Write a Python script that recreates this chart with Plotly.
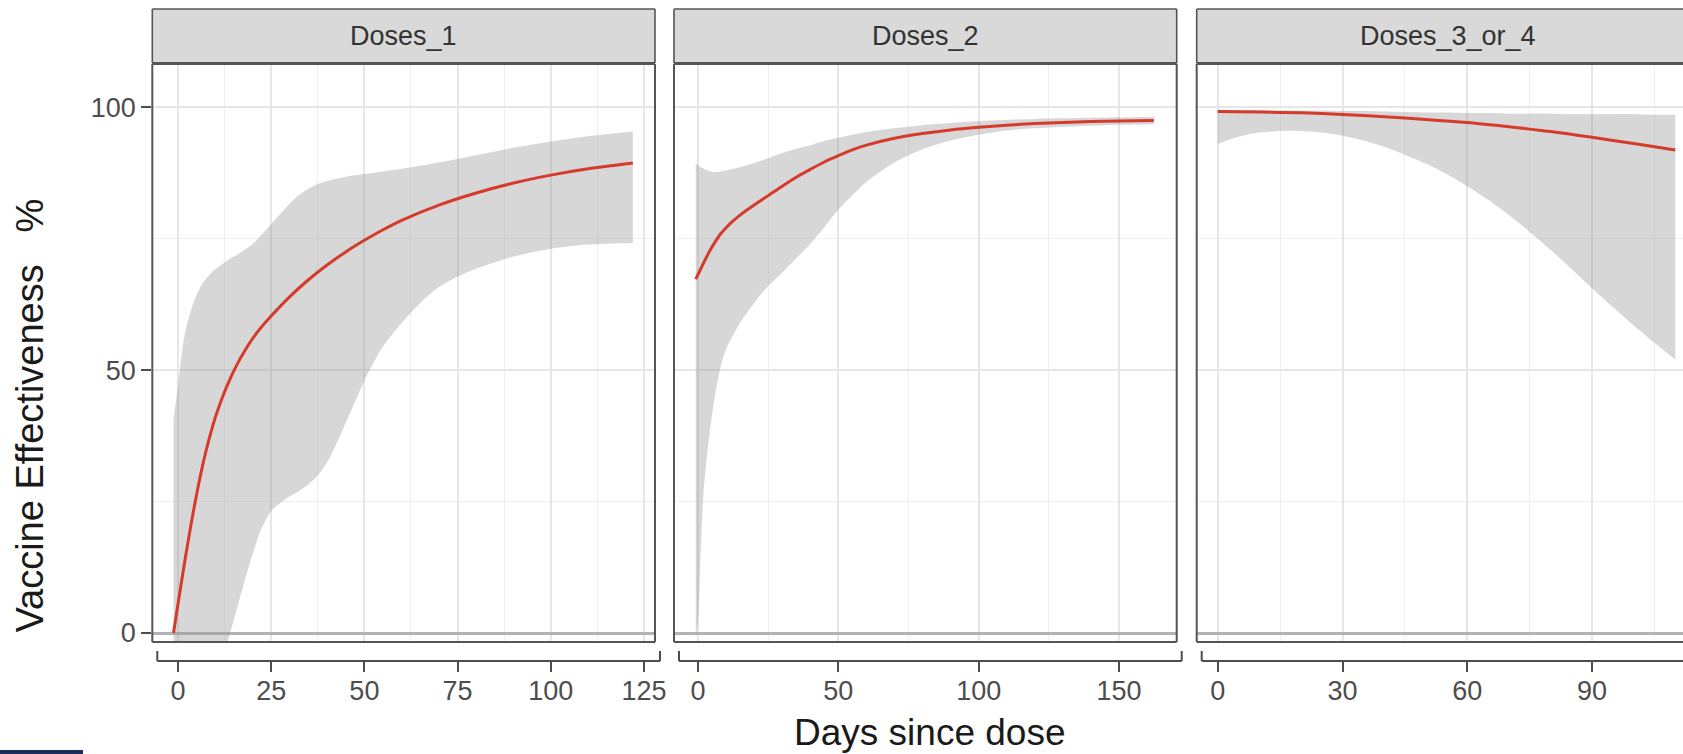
import plotly.graph_objects as go

W, H = 1683, 754

# ---------------- data ----------------
panel_names = ["Doses_1", "Doses_2", "Doses_3_or_4"]

# Doses_1
d1_fit_x = [-1.2, 0, 1, 2, 3, 4, 5, 6, 7, 8, 9, 10, 12, 14, 16, 18, 20, 22.5, 25, 30, 35, 40, 45, 50, 55, 60, 70, 80, 90, 100, 110, 122]
d1_fit = [0, 5.5, 10, 14.4, 18.6, 22.6, 26.4, 29.9, 33.1, 36, 38.6, 41, 45, 48.4, 51.3, 53.8, 56, 58.3, 60.3, 64, 67.2, 70, 72.5, 74.7, 76.7, 78.5, 81.4, 83.7, 85.6, 87.1, 88.3, 89.4]
d1_up_x = [-1.2, 0, 1, 2, 4, 6, 8, 10, 12.5, 15, 17.5, 20, 22.5, 25, 27.5, 30, 32.5, 35, 37.5, 40, 45, 50, 55, 60, 70, 80, 90, 100, 110, 122]
d1_upper = [40.7, 47, 53, 57.5, 62.5, 65.8, 67.8, 69.2, 70.5, 71.6, 72.7, 74, 75.8, 77.8, 79.8, 81.7, 83.3, 84.5, 85.4, 86, 86.8, 87.3, 87.8, 88.3, 89.5, 90.9, 92.3, 93.5, 94.5, 95.4]
d1_lo_x = [-1.2, 0, 2, 4, 6, 8, 10, 12.5, 15, 17.5, 20, 22.5, 25, 27.5, 30, 32.5, 35, 37.5, 40, 42.5, 45, 47.5, 50, 52.5, 55, 60, 65, 70, 75, 80, 90, 100, 110, 122]
d1_lower = [-40, -36, -30, -24, -18, -13, -8.5, -3.5, 2.5, 9, 15, 20, 23.2, 24.8, 26, 27, 28.3, 30, 32.5, 36, 40, 44, 48, 51.5, 54.5, 59, 62.8, 65.8, 67.8, 69.3, 71.6, 73.1, 73.9, 74.2]

# Doses_2
d2_fit_x = [-0.8, 0, 2, 4, 6, 8, 10, 12.5, 15, 20, 25, 30, 35, 40, 45, 50, 55, 60, 70, 80, 90, 100, 110, 120, 130, 140, 150, 162.4]
d2_fit = [67.3, 68.2, 70.4, 72.5, 74.3, 75.9, 77.1, 78.4, 79.5, 81.4, 83.2, 85, 86.7, 88.2, 89.6, 90.8, 91.9, 92.8, 94.1, 95, 95.7, 96.2, 96.6, 96.9, 97.1, 97.3, 97.4, 97.5]
d2_band_x = [-0.8, 0, 1, 2, 4, 6, 8, 10, 15, 20, 25, 30, 35, 40, 45, 50, 60, 70, 80, 90, 100, 110, 120, 130, 140, 150, 162.4]
d2_upper = [89.3, 89, 88.6, 88.3, 87.9, 87.7, 87.8, 88, 88.6, 89.4, 90.3, 91.3, 92.1, 92.8, 93.6, 94.2, 95.3, 96, 96.6, 97, 97.4, 97.6, 97.8, 97.9, 98, 98.1, 98.2]
d2_lower = [-1, 2, 16, 27, 37.5, 45, 50.5, 54, 59, 62.8, 66, 68.6, 71.3, 74, 77.2, 80.5, 85.8, 89.5, 92, 93.7, 94.8, 95.6, 96, 96.3, 96.5, 96.7, 96.8]

# Doses_3_or_4
d3_fit_x = [0, 10, 20, 30, 40, 50, 60, 70, 80, 90, 100, 110]
d3_fit = [99.2, 99.1, 98.95, 98.65, 98.2, 97.7, 97.1, 96.3, 95.4, 94.3, 93.1, 91.9]
d3_band_x = [0, 5, 10, 15, 20, 25, 30, 35, 40, 45, 50, 55, 60, 65, 70, 75, 80, 85, 90, 95, 100, 105, 110]
d3_upper = [99.5, 99.5, 99.5, 99.4, 99.4, 99.4, 99.3, 99.3, 99.2, 99.1, 99.0, 99.0, 98.9, 98.9, 98.8, 98.8, 98.8, 98.7, 98.7, 98.7, 98.7, 98.6, 98.6]
d3_lower = [93, 94.4, 95.2, 95.5, 95.5, 95.2, 94.6, 93.7, 92.5, 91, 89.3, 87.3, 85, 82.4, 79.5, 76.3, 72.9, 69.3, 65.6, 62, 58.5, 55.2, 52]

x_major_ticks = [[0, 25, 50, 75, 100, 125], [0, 50, 100, 150], [0, 30, 60, 90]]
x_minor_step = [12.5, 25, 15]
y_major_ticks = [0, 50, 100]

x_title = "Days since dose"
y_title = "Vaccine Effectiveness\u00a0\u00a0\u00a0%"

# ---------------- layout geometry (pixels) ----------------
# the third panel is cut by the right edge of the picture
panel_px = [(152.3, 655.0), (674.0, 1176.7), (1196.7, 1683.0)]
panel_cut = [False, False, True]
x_ranges = [[-6.89, 127.95], [-8.55, 170.54], [-5.05, 111.85]]
panel_top, panel_bot = 64, 642
strip_top, strip_bot = 9, 63
axis_y = 661
y_range = [-1.71, 108.24]


def px(x):
    return x / W


def py(y):
    return 1 - y / H


font_family = "Liberation Sans, Arial, Helvetica, sans-serif"
RED = "#d63a2b"
RIBBON = "rgba(150,150,150,0.38)"
BORDER = "#555555"

fig = go.Figure()

series = [
    (d1_fit_x, d1_fit, d1_up_x, d1_upper, d1_lo_x, d1_lower),
    (d2_fit_x, d2_fit, d2_band_x, d2_upper, d2_band_x, d2_lower),
    (d3_fit_x, d3_fit, d3_band_x, d3_upper, d3_band_x, d3_lower),
]

for i, (fx, fy, ux, uy, lx, ly) in enumerate(series):
    sfx = "" if i == 0 else str(i + 1)
    fig.add_trace(go.Scatter(
        x=lx, y=ly, mode="lines", line=dict(width=0, color="rgba(0,0,0,0)", shape="spline", smoothing=0.8),
        xaxis="x" + sfx, yaxis="y" + sfx, showlegend=False, hoverinfo="skip"))
    fig.add_trace(go.Scatter(
        x=ux, y=uy, mode="lines", fill="tonexty", fillcolor=RIBBON,
        line=dict(width=0, color="rgba(0,0,0,0)", shape="spline", smoothing=0.8),
        xaxis="x" + sfx, yaxis="y" + sfx, showlegend=False, hoverinfo="skip"))
    fig.add_trace(go.Scatter(
        x=fx, y=fy, mode="lines", line=dict(color=RED, width=3, shape="spline", smoothing=0.8),
        xaxis="x" + sfx, yaxis="y" + sfx, showlegend=False))

layout = dict(
    width=W, height=H, margin=dict(l=0, r=0, t=0, b=0, autoexpand=False),
    paper_bgcolor="white", plot_bgcolor="white",
    font=dict(family=font_family, color="#4d4d4d"),
    showlegend=False,
)

shapes = []
annotations = []


def seg(x0, y0, x1, y1, color, width):
    return dict(type="line", xref="paper", yref="paper",
                x0=px(x0), y0=py(y0), x1=px(x1), y1=py(y1),
                line=dict(color=color, width=width), layer="above")


for i in range(3):
    sfx = "" if i == 0 else str(i + 1)
    x0p, x1p = panel_px[i]
    cut = panel_cut[i]
    layout["xaxis" + sfx] = dict(
        domain=[px(x0p), px(x1p)], range=x_ranges[i], anchor="free", position=py(axis_y),
        tickmode="array", tickvals=x_major_ticks[i],
        ticks="outside", ticklen=10, tickwidth=2, tickcolor="#4d4d4d",
        tickfont=dict(size=27, color="#4d4d4d", family=font_family),
        ticklabelstandoff=-4, automargin=False,
        showline=False, zeroline=False,
        showgrid=True, gridcolor="#e6e6e6", gridwidth=1.6,
        minor=dict(tick0=0, dtick=x_minor_step[i], showgrid=True,
                   gridcolor="#f0f0f0", gridwidth=1, ticks=""),
        fixedrange=True,
    )
    layout["yaxis" + sfx] = dict(
        domain=[py(panel_bot), py(panel_top)], range=y_range,
        anchor="x" + sfx,
        tickmode="array", tickvals=y_major_ticks,
        ticks="outside" if i == 0 else "", ticklen=10, tickwidth=2, tickcolor="#4d4d4d",
        showticklabels=(i == 0),
        tickfont=dict(size=27, color="#4d4d4d", family=font_family),
        ticklabelstandoff=0, automargin=False,
        showline=False,
        zeroline=True, zerolinecolor="#b3b3b3", zerolinewidth=2.5,
        showgrid=True, gridcolor="#e6e6e6", gridwidth=1.6,
        minor=dict(tick0=0, dtick=25, showgrid=True, gridcolor="#f0f0f0", gridwidth=1, ticks=""),
        fixedrange=True,
    )
    # strip background and outline
    shapes.append(dict(type="rect", xref="paper", yref="paper",
                       x0=px(x0p), x1=px(x1p), y0=py(strip_bot), y1=py(strip_top),
                       fillcolor="#d9d9d9", line=dict(width=0), layer="above"))
    shapes.append(seg(x0p, strip_top, x1p, strip_top, BORDER, 1.6))
    shapes.append(seg(x0p, strip_bot, x1p, strip_bot, BORDER, 1.8))
    shapes.append(seg(x0p, strip_top, x0p, strip_bot, BORDER, 1.6))
    if not cut:
        shapes.append(seg(x1p, strip_top, x1p, strip_bot, BORDER, 1.6))
    # panel border
    shapes.append(seg(x0p, panel_top, x1p, panel_top, BORDER, 2))
    shapes.append(seg(x0p, panel_bot, x1p, panel_bot, BORDER, 2))
    shapes.append(seg(x0p, panel_top, x0p, panel_bot, BORDER, 2))
    if not cut:
        shapes.append(seg(x1p, panel_top, x1p, panel_bot, BORDER, 2))
    # bracket-style axis line
    bx0 = x0p + 5
    bx1 = x1p if cut else x1p + 5
    shapes.append(seg(bx0, axis_y, bx1, axis_y, "#4d4d4d", 2))
    shapes.append(seg(bx0, axis_y - 10, bx0, axis_y, "#4d4d4d", 2))
    if not cut:
        shapes.append(seg(bx1, axis_y - 10, bx1, axis_y, "#4d4d4d", 2))
    # strip label (centred on the full, uncut panel width)
    full_right = x0p + (panel_px[0][1] - panel_px[0][0])
    annotations.append(dict(text=panel_names[i], xref="paper", yref="paper",
                            x=px((x0p + full_right) / 2), y=py((strip_top + strip_bot) / 2),
                            xanchor="center", yanchor="middle", showarrow=False,
                            font=dict(size=27, color="#333333", family=font_family)))

# small navy bar at bottom-left
shapes.append(dict(type="rect", xref="paper", yref="paper", x0=0, x1=px(83),
                   y0=0, y1=py(750), fillcolor="#1b2d5b", line=dict(width=0)))

annotations.append(dict(text=x_title, xref="paper", yref="paper",
                        x=px(929), y=py(732), xanchor="center", yanchor="middle",
                        showarrow=False, font=dict(size=37, color="#1a1a1a", family=font_family)))
annotations.append(dict(text=y_title, xref="paper", yref="paper",
                        x=px(30), y=py(415.5), xanchor="center", yanchor="middle",
                        textangle=-90, showarrow=False,
                        font=dict(size=38, color="#1a1a1a", family=font_family)))

layout["shapes"] = shapes
layout["annotations"] = annotations
fig.update_layout(**layout)

fig.write_html("out.html", config={"displayModeBar": False},
               post_script=("document.body.style.margin='0';document.body.style.padding='0';"
                            "document.documentElement.style.overflow='hidden';"
                            "document.body.style.overflow='hidden';"))
